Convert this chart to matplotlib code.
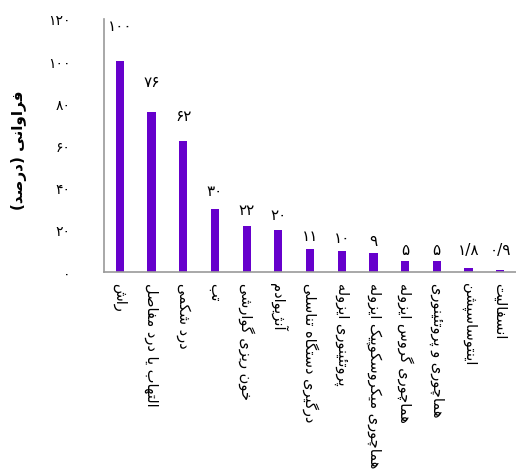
import matplotlib
matplotlib.use("Agg")
import matplotlib.pyplot as plt
from matplotlib.ticker import FuncFormatter

# داده‌ها
categories = [
    "راش",
    "التهاب یا درد مفاصل",
    "درد شکمی",
    "تب",
    "خون ریزی گوارشی",
    "آنژیوادم",
    "درگیری دستگاه تناسلی",
    "پروتئینوری ایزوله",
    "هماچوری میکروسکوپیک ایزوله",
    "هماچوری گروس ایزوله",
    "هماچوری و پروتئینوری",
    "اینتوساسپشن",
    "انسفالیت",
]
values = [100, 76, 62, 30, 22, 20, 11, 10, 9, 5, 5, 1.8, 0.9]
value_labels = ["۱۰۰", "۷۶", "۶۲", "۳۰", "۲۲", "۲۰", "۱۱", "۱۰", "۹", "۵", "۵", "۱/۸", "۰/۹"]
y_label = "فراوانی (درصد)"

# جدول شکل‌های حروف: (تنها، پایانی، آغازی، میانی)
FORMS = {
    "ا": (0xFE8D, 0xFE8E), "آ": (0xFE81, 0xFE82),
    "ب": (0xFE8F, 0xFE90, 0xFE91, 0xFE92), "پ": (0xFB56, 0xFB57, 0xFB58, 0xFB59),
    "ت": (0xFE95, 0xFE96, 0xFE97, 0xFE98), "ث": (0xFE99, 0xFE9A, 0xFE9B, 0xFE9C),
    "ج": (0xFE9D, 0xFE9E, 0xFE9F, 0xFEA0), "چ": (0xFB7A, 0xFB7B, 0xFB7C, 0xFB7D),
    "ح": (0xFEA1, 0xFEA2, 0xFEA3, 0xFEA4), "خ": (0xFEA5, 0xFEA6, 0xFEA7, 0xFEA8),
    "د": (0xFEA9, 0xFEAA), "ذ": (0xFEAB, 0xFEAC), "ر": (0xFEAD, 0xFEAE),
    "ز": (0xFEAF, 0xFEB0), "ژ": (0xFB8A, 0xFB8B),
    "س": (0xFEB1, 0xFEB2, 0xFEB3, 0xFEB4), "ش": (0xFEB5, 0xFEB6, 0xFEB7, 0xFEB8),
    "ص": (0xFEB9, 0xFEBA, 0xFEBB, 0xFEBC), "ض": (0xFEBD, 0xFEBE, 0xFEBF, 0xFEC0),
    "ط": (0xFEC1, 0xFEC2, 0xFEC3, 0xFEC4), "ظ": (0xFEC5, 0xFEC6, 0xFEC7, 0xFEC8),
    "ع": (0xFEC9, 0xFECA, 0xFECB, 0xFECC), "غ": (0xFECD, 0xFECE, 0xFECF, 0xFED0),
    "ف": (0xFED1, 0xFED2, 0xFED3, 0xFED4), "ق": (0xFED5, 0xFED6, 0xFED7, 0xFED8),
    "ک": (0xFB8E, 0xFB8F, 0xFB90, 0xFB91), "گ": (0xFB92, 0xFB93, 0xFB94, 0xFB95),
    "ل": (0xFEDD, 0xFEDE, 0xFEDF, 0xFEE0), "م": (0xFEE1, 0xFEE2, 0xFEE3, 0xFEE4),
    "ن": (0xFEE5, 0xFEE6, 0xFEE7, 0xFEE8), "ه": (0xFEE9, 0xFEEA, 0xFEEB, 0xFEEC),
    "و": (0xFEED, 0xFEEE), "ی": (0xFBFC, 0xFBFD, 0xFBFE, 0xFBFF),
    "ئ": (0xFE89, 0xFE8A, 0xFE8B, 0xFE8C),
}


def fa(text):
    # شکل‌دهی ساده حروف و برگرداندن ترتیب برای راست به چپ
    out = []
    n = len(text)
    for i, ch in enumerate(text):
        if ch not in FORMS:
            out.append(ch)
            continue
        f = FORMS[ch]
        prev = text[i - 1] if i > 0 else ""
        nxt = text[i + 1] if i < n - 1 else ""
        join_prev = prev in FORMS and len(FORMS[prev]) == 4
        join_next = len(f) == 4 and nxt in FORMS
        if join_prev and join_next:
            code = f[3]
        elif join_prev:
            code = f[1]
        elif join_next:
            code = f[2]
        else:
            code = f[0]
        out.append(chr(code))
    s = "".join(reversed(out))
    return s.translate(str.maketrans("()", ")("))


def fa_digits(v, pos=None):
    return str(int(v)).translate(str.maketrans("0123456789", "۰۱۲۳۴۵۶۷۸۹"))


plt.rcParams["font.family"] = ["DejaVu Sans"]

fig = plt.figure(figsize=(5.16, 4.77), dpi=100)
ax = fig.add_axes([0.2016, 0.4277, 0.7984, 0.5305])

x = range(len(categories))
ax.bar(x, values, width=0.26, color="#6600cc")

for i, v in enumerate(values):
    ax.text(i, max(v * 1.12 + 5, 10.5), value_labels[i], ha="center", va="center", fontsize=11)

ax.set_xlim(-0.5, len(categories) - 0.5)
ax.set_ylim(0, 120)
ax.set_yticks(range(0, 121, 20))
ax.yaxis.set_major_formatter(FuncFormatter(fa_digits))
ax.set_xticks(list(x))
ax.set_xticklabels([fa(c) for c in categories], rotation=-90, fontsize=10.5)
ax.tick_params(axis="y", length=0, pad=24, labelsize=10)
ax.tick_params(axis="x", length=0, pad=7)

for s in ["top", "right"]:
    ax.spines[s].set_visible(False)
for s in ["left", "bottom"]:
    ax.spines[s].set_color("#999999")
    ax.spines[s].set_linewidth(1.2)

fig.text(0.036, 0.685, fa(y_label), rotation=90, ha="center", va="center",
         fontsize=11, fontweight="bold")

fig.savefig("out.png", dpi=100)
